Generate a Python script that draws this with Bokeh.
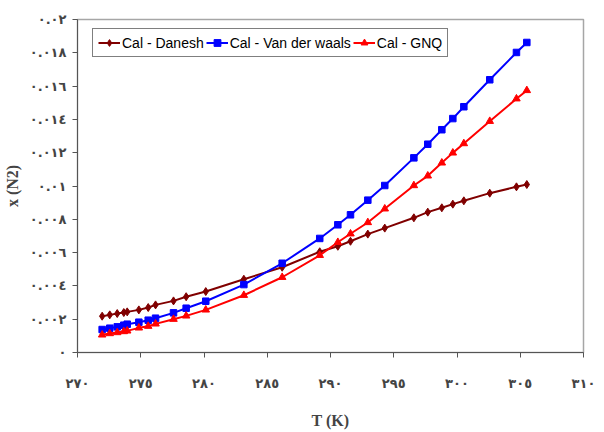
from bokeh.plotting import figure
from bokeh.models import FixedTicker, Legend, LegendItem
from bokeh.embed import file_html
from bokeh.resources import INLINE

# Temperature (K)
T = [271.95, 272.55, 273.14, 273.66, 273.93, 274.85, 275.59, 276.17, 277.59, 278.59,
     280.14, 283.15, 286.18, 289.15, 290.58, 291.58, 292.95, 294.29, 296.59, 297.69,
     298.8, 299.67, 300.54, 302.59, 304.7, 305.52]

danesh = [0.00218, 0.00226, 0.00234, 0.0024, 0.00244, 0.00256, 0.0027, 0.00286, 0.0031, 0.00335,
          0.00366, 0.0044, 0.00512, 0.00605, 0.00638, 0.00668, 0.00711, 0.00747, 0.00809, 0.00843,
          0.00869, 0.00891, 0.00911, 0.00957, 0.00995, 0.01009]

vdw = [0.00138, 0.00146, 0.00154, 0.00164, 0.0017, 0.00182, 0.00194, 0.00206, 0.00238, 0.00266,
       0.00308, 0.00408, 0.00536, 0.00685, 0.00767, 0.00827, 0.00915, 0.01003, 0.01169, 0.01251,
       0.01338, 0.01405, 0.01476, 0.01638, 0.01802, 0.01862]

gnq = [0.00106, 0.00114, 0.0012, 0.00126, 0.0013, 0.00148, 0.00158, 0.00172, 0.002, 0.0022,
       0.00256, 0.00344, 0.00452, 0.00584, 0.00662, 0.00713, 0.00781, 0.00863, 0.01003, 0.01061,
       0.01139, 0.01199, 0.01255, 0.01389, 0.01524, 0.01574]

x_ticks = [270, 275, 280, 285, 290, 295, 300, 305, 310]
x_tick_labels = ["٢٧٠", "٢٧٥", "٢٨٠", "٢٨٥", "٢٩٠", "٢٩٥", "٣٠٠", "٣٠٥", "٣١٠"]
y_ticks = [0.0, 0.002, 0.004, 0.006, 0.008, 0.01, 0.012, 0.014, 0.016, 0.018, 0.02]
y_tick_labels = ["٠", "٠.٠٠٢", "٠.٠٠٤", "٠.٠٠٦", "٠.٠٠٨", "٠.٠١", "٠.٠١٢", "٠.٠١٤",
                 "٠.٠١٦", "٠.٠١٨", "٠.٠٢"]

labels = ["Cal - Danesh", "Cal - Van der waals", "Cal - GNQ"]
colors = ["#800000", "#0000ff", "#ff0000"]
markers = ["diamond", "square", "triangle"]
sizes = [8, 6.5, 7.5]

p = figure(width=604, height=432, output_backend="svg", toolbar_location=None,
           x_range=(270, 310), y_range=(0, 0.02),
           min_border_left=77, min_border_right=21, min_border_top=19, min_border_bottom=80)
p.xgrid.visible = False
p.ygrid.visible = False
p.outline_line_color = "#a6a6a6"
p.outline_line_width = 1.5
p.background_fill_color = "white"
p.border_fill_color = "white"

items = []
for ys, lab, c, m, s in zip([danesh, vdw, gnq], labels, colors, markers, sizes):
    l = p.line(T, ys, line_color=c, line_width=2)
    sc = p.scatter(T, ys, marker=m, size=s, fill_color=c, line_color=c)
    items.append(LegendItem(label=lab, renderers=[l, sc]))

legend = Legend(items=items, orientation="horizontal", location=(15, 295))
legend.margin = 0
legend.padding = 5
legend.spacing = 2
legend.glyph_width = 22
legend.glyph_height = 17
legend.label_standoff = 2
legend.label_text_font = "Liberation Sans"
legend.label_text_font_size = "14px"
legend.label_text_color = "black"
legend.label_height = 17
legend.border_line_color = "black"
legend.border_line_width = 1
legend.background_fill_alpha = 1
p.add_layout(legend)

xa = p.xaxis[0]
xa.ticker = FixedTicker(ticks=x_ticks)
xa.major_label_overrides = {t: s for t, s in zip(x_ticks, x_tick_labels)}
xa.minor_tick_line_color = None
xa.major_tick_out = 5
xa.major_tick_in = 0
xa.major_label_standoff = 18
xa.axis_line_color = "#555555"
xa.major_tick_line_color = "#555555"
xa.major_label_text_font = "DejaVu Sans"
xa.major_label_text_font_style = "bold"
xa.major_label_text_font_size = "13px"
xa.axis_label = "T (K)"
xa.axis_label_text_font = "Liberation Serif"
xa.axis_label_text_font_style = "bold"
xa.axis_label_text_font_size = "16px"
xa.axis_label_standoff = 18

ya = p.yaxis[0]
ya.ticker = FixedTicker(ticks=y_ticks)
ya.major_label_overrides = {t: s for t, s in zip(y_ticks, y_tick_labels)}
ya.minor_tick_line_color = None
ya.major_tick_out = 5
ya.major_tick_in = 0
ya.major_label_standoff = 6
ya.axis_line_color = "#555555"
ya.major_tick_line_color = "#555555"
ya.major_label_text_font = "DejaVu Sans"
ya.major_label_text_font_style = "bold"
ya.major_label_text_font_size = "13px"
ya.axis_label = "x (N2)"
ya.axis_label_text_font = "Liberation Serif"
ya.axis_label_text_font_style = "bold"
ya.axis_label_text_font_size = "16px"
ya.axis_label_standoff = 6

open("out.html", "w").write(file_html(p, INLINE))
